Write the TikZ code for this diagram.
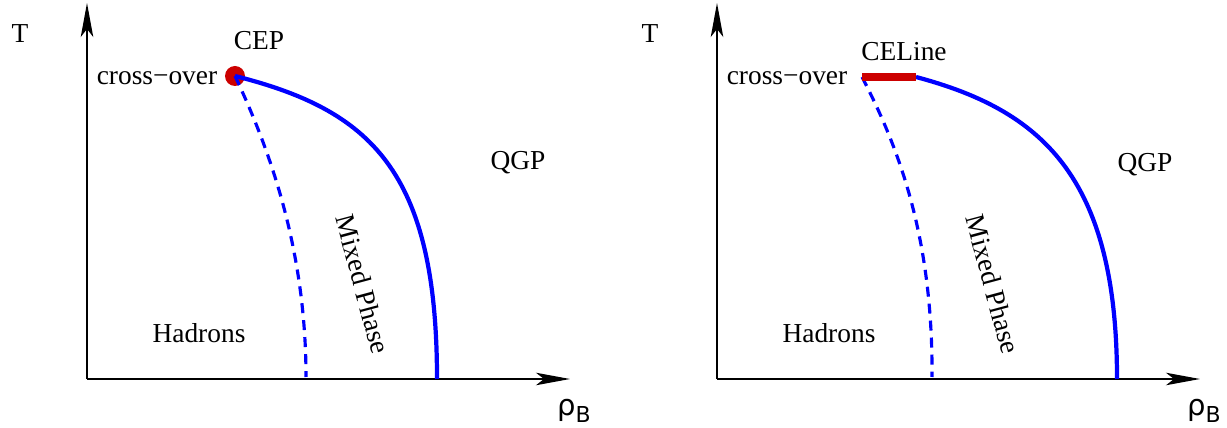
\documentclass[tikz,border=0pt]{standalone}
\usepackage{fontspec}
\setmainfont{Liberation Serif}
\newfontfamily\rhofont{DejaVu Sans}
\usetikzlibrary{arrows.meta}
\definecolor{PDBlue}{HTML}{0000FF}
\definecolor{PDRed}{HTML}{CC0000}

\begin{document}
\begin{tikzpicture}[x=0.02cm, y=-0.02cm,
  axis/.style={line width=0.9pt, -{Stealth[length=0.68cm, width=0.25cm, inset=0.16cm]}},
  txt/.style={font=\fontsize{15.6}{18}\selectfont, inner sep=0pt},
  rholbl/.style={font=\fontsize{16.5}{18}\selectfont\rhofont, inner sep=0pt},
  trans/.style={line width=2.4pt, color=PDBlue},
  spin/.style={line width=1.8pt, color=PDBlue, dash pattern=on 0.2cm off 0.14cm},
  cpt/.style={circle, fill=PDRed, minimum size=0.4cm, inner sep=0pt},
  cline/.style={line width=0.16cm, color=PDRed}
]
  \useasboundingbox (0,0) rectangle (1227,428);
  % left panel
  \coordinate (o1)  at (87,379);
  \coordinate (ty1) at (87,3);
  \coordinate (rx1) at (570,379);
  \coordinate (s1)  at (437,379);
  \coordinate (d1)  at (306,377);
  \draw[axis] (o1) -- (ty1);
  \draw[axis] (o1) -- (rx1);
  \node[cpt] (cep) at (235,76) {};
  \draw[spin]  (cep.center) .. controls (270,150) and (306,250) .. (d1);
  \draw[trans] (cep.center) .. controls (370,110) and (437,170) .. (s1);
  \node[txt] (t1)   at (20,34)   {T};
  \node[txt] (cepl) at (259,41)  {CEP};
  \node[txt] (xo1)  at (157,78)  {cross−over};
  \node[txt] (had1) at (199,333) {Hadrons};
  \node[txt] (qgp1) at (518,163) {QGP};
  \node[txt, rotate=-75] (mix1) at (363,284) {Mixed Phase};
  \node[rholbl] (rho1) at (574,411) {ρ\raisebox{-0.45ex}{\fontsize{12.5}{14}\selectfont B}};
  % right panel
  \coordinate (o2)  at (717,379);
  \coordinate (ty2) at (717,3);
  \coordinate (rx2) at (1200,379);
  \coordinate (s2)  at (1117,379);
  \coordinate (d2)  at (932,377);
  \coordinate (ca)  at (862,77);
  \coordinate (cb)  at (916,77);
  \draw[axis] (o2) -- (ty2);
  \draw[axis] (o2) -- (rx2);
  \draw[spin]  (ca) .. controls (900,150) and (933,240) .. (d2);
  \draw[trans] (cb) .. controls (1040,110) and (1117,175) .. (s2);
  \draw[cline] (ca) -- (cb);
  \node[txt] (t2)   at (650,34)   {T};
  \node[txt] (cell) at (904,52)   {CELine};
  \node[txt] (xo2)  at (787,78)   {cross−over};
  \node[txt] (had2) at (829,333)  {Hadrons};
  \node[txt] (qgp2) at (1145,165) {QGP};
  \node[txt, rotate=-75] (mix2) at (993,284) {Mixed Phase};
  \node[rholbl] (rho2) at (1204,411) {ρ\raisebox{-0.45ex}{\fontsize{12.5}{14}\selectfont B}};
\end{tikzpicture}
\end{document}
